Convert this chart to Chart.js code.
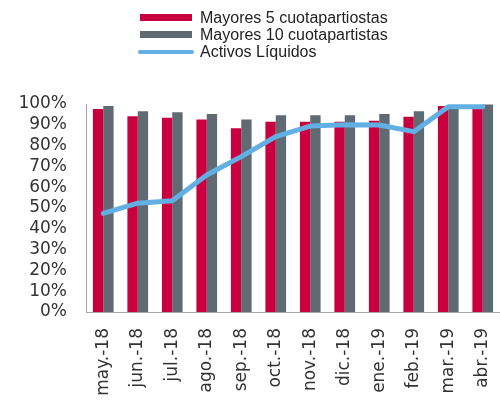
<!DOCTYPE html>
<html lang="es">
<head>
    <meta charset="UTF-8">
    <title>Concentración cuotapartistas</title>
    <script src="https://cdn.jsdelivr.net/npm/chart.js"></script>
    <style>
        body {
            margin: 0;
            background: #fff;
        }
        .wrap {
            position: relative;
            width: 500px;
            height: 403px;
        }
        .legend {
            position: absolute;
            left: 138px;
            top: 9px;
            font-family: "Liberation Sans", Arial, sans-serif;
            font-size: 16px;
            color: #222;
        }
        .legend .item {
            display: flex;
            align-items: center;
            height: 17px;
        }
        .legend .sw {
            width: 52px;
            margin-right: 8px;
            margin-left: 2px;
        }
        .legend .line {
            height: 4px;
            border-radius: 2px;
            width: 56px;
            margin-left: 0;
            margin-right: 6px;
        }
    </style>
</head>
<body>
<div class="wrap">
    <canvas id="chart" width="500" height="403"></canvas>
    <div class="legend">
        <div class="item"><span class="sw" style="height:7px;background:#c8003f"></span>Mayores 5 cuotapartiostas</div>
        <div class="item"><span class="sw" style="height:7px;background:#5f6a72"></span>Mayores 10 cuotapartistas</div>
        <div class="item"><span class="sw line" style="background:#62b0e3"></span>Activos Líquidos</div>
    </div>
</div>
<script>
// data
const months = ['may.-18', 'jun.-18', 'jul.-18', 'ago.-18', 'sep.-18', 'oct.-18',
                'nov.-18', 'dic.-18', 'ene.-19', 'feb.-19', 'mar.-19', 'abr.-19'];
const top5 = [97.6, 94.1, 93.4, 92.6, 88.3, 91.5, 91.5, 91.5, 92.0, 93.9, 99.0, 99.5];
const top10 = [99.0, 96.5, 96.0, 95.2, 92.6, 94.6, 94.6, 94.6, 95.2, 96.5, 99.5, 99.8];
const liquidos = [47.4, 52.3, 53.5, 65.9, 74.7, 84.3, 89.4, 90.0, 89.9, 86.7, 98.7, 98.7];

Chart.defaults.font.family = '"DejaVu Sans", sans-serif';
Chart.defaults.font.size = 17;
Chart.defaults.color = '#333';

const ctx = document.getElementById('chart').getContext('2d');
new Chart(ctx, {
    type: 'bar',
    data: {
        labels: months,
        datasets: [
            {
                type: 'line',
                label: 'Activos Líquidos',
                data: liquidos,
                borderColor: '#62b0e3',
                borderWidth: 5,
                pointRadius: 0,
                tension: 0,
                borderCapStyle: 'round',
                borderJoinStyle: 'round',
                order: 0
            },
            {
                label: 'Mayores 5 cuotapartiostas',
                data: top5,
                backgroundColor: '#c8003f',
                categoryPercentage: 0.6,
                barPercentage: 1.0,
                order: 1
            },
            {
                label: 'Mayores 10 cuotapartistas',
                data: top10,
                backgroundColor: '#5f6a72',
                categoryPercentage: 0.6,
                barPercentage: 1.0,
                order: 1
            }
        ]
    },
    options: {
        responsive: false,
        animation: false,
        layout: { padding: { top: 104, right: 0, left: 0, bottom: 0 } },
        plugins: {
            legend: { display: false },
            tooltip: { enabled: false }
        },
        scales: {
            x: {
                grid: { display: false, drawTicks: false },
                border: { display: true, color: '#a6a6a6', width: 1 },
                ticks: { minRotation: 90, maxRotation: 90, padding: 16, autoSkip: false },
                afterFit: (scale) => {
                    scale.height = 91;
                    scale.paddingLeft = 0;
                    scale.paddingRight = 0;
                }
            },
            y: {
                min: 0,
                max: 100,
                grid: { display: false, drawTicks: false },
                border: { display: true, color: '#a6a6a6', width: 1 },
                ticks: {
                    stepSize: 10,
                    autoSkip: false,
                    padding: 19,
                    callback: (v) => v + '%'
                },
                afterFit: (scale) => {
                    scale.width = 86;
                    scale.paddingTop = 0;
                    scale.paddingBottom = 0;
                }
            }
        }
    }
});
</script>
</body>
</html>
